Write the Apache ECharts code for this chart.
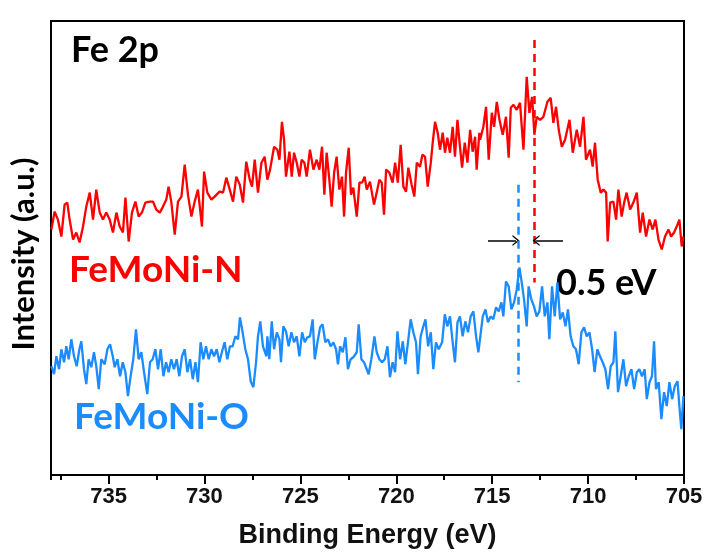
<!DOCTYPE html>
<html>
<head>
<meta charset="utf-8">
<script src="https://cdn.jsdelivr.net/npm/echarts@6/dist/echarts.min.js"></script>
<style>
  html, body { margin: 0; padding: 0; background: #fff; }
  #chart { width: 708px; height: 554px; }
</style>
</head>
<body>
<div id="chart"></div>
<script>
// FeMoNi-N (red), binding energy (eV) / intensity (a.u.)
var energyN = [737.98,737.81,737.64,737.46,737.29,737.15,737.03,736.85,736.68,736.51,736.33,736.16,735.98,735.81,735.64,735.46,735.29,735.12,734.94,734.77,734.59,734.42,734.25,734.12,733.95,733.78,733.60,733.43,733.26,733.08,732.86,732.68,732.51,732.33,732.16,731.99,731.87,731.73,731.55,731.38,731.20,731.03,730.86,730.68,730.51,730.34,730.13,730.02,729.85,729.64,729.47,729.21,729.03,728.86,728.68,728.51,728.34,728.16,727.99,727.82,727.64,727.52,727.38,727.21,727.03,726.86,726.72,
  726.58,726.37,726.20,726.09,725.96,725.85,725.75,725.57,725.45,725.33,725.19,725.05,724.93,724.79,724.67,724.50,724.32,724.15,724.01,723.87,723.75,723.63,723.49,723.37,723.24,723.11,722.97,722.83,722.72,722.62,722.48,722.36,722.24,722.06,721.92,721.78,721.65,721.54,721.37,721.16,721.02,720.88,720.76,720.64,720.53,720.36,720.19,720.06,719.92,719.77,719.63,719.49,719.37,719.20,719.06,718.93,718.76,718.64,718.50,718.36,718.20,718.10,717.98,717.84,717.72,717.58,717.46,717.34,717.20,717.06,716.94,716.81,716.68,716.57,716.43,716.29,716.15,716.02,715.89,715.81,715.67,
  715.63,715.46,715.32,715.18,715.02,714.90,714.76,714.62,714.45,714.28,714.14,714.03,713.89,713.72,713.55,713.37,713.20,713.06,712.92,712.80,712.68,712.50,712.33,712.12,711.95,711.81,711.67,711.53,711.37,711.20,710.97,710.80,710.59,710.42,710.24,710.11,709.90,709.76,709.64,709.50,709.34,709.20,709.06,708.98,708.85,708.68,708.54,708.42,708.25,708.12,707.99,707.81,707.64,707.46,707.29,707.15,706.98,706.80,706.63,706.49,706.33,706.16,705.99,705.81,705.67,705.52,705.38,705.24,705.12,705.03];
var intensityN = [246,264,256,239,271,273,256,236,243,233,249,269,283,256,286,263,256,263,256,243,263,249,243,278,234,263,274,259,263,273,274,274,266,263,269,276,289,274,241,274,279,311,281,259,274,286,249,304,283,276,279,284,283,298,286,274,299,291,273,314,296,289,316,283,313,319,296,
  306,329,326,316,354,336,299,324,299,323,313,299,316,313,299,326,306,316,306,329,281,323,296,269,303,319,286,299,259,303,328,281,288,259,293,293,299,286,294,271,283,296,293,261,306,303,293,313,293,331,289,284,308,291,279,313,309,321,319,289,313,333,354,343,326,343,323,338,323,349,319,356,329,308,333,313,346,324,339,306,343,
  336,349,369,316,363,349,374,356,341,359,318,368,371,366,373,326,399,363,379,341,359,356,359,374,378,353,369,346,329,336,356,323,346,329,359,316,326,309,333,296,283,286,283,234,273,274,256,286,259,273,283,266,273,283,243,263,239,256,246,256,236,226,239,246,239,243,249,256,229,239];

// FeMoNi-O (blue)
var energyO = [737.98,737.84,737.72,737.58,737.46,737.32,737.20,737.08,736.94,736.80,736.66,736.52,736.42,736.28,736.16,736.04,735.90,735.76,735.64,735.51,735.38,735.20,735.06,734.92,734.78,734.68,734.54,734.40,734.26,734.12,733.99,733.85,733.71,733.57,733.43,733.29,733.15,732.98,732.84,732.70,732.56,732.42,732.28,732.14,732.00,731.87,731.73,731.59,731.45,731.31,731.17,731.03,730.89,730.75,730.61,730.47,730.34,730.20,730.06,729.92,729.78,729.64,729.50,729.36,729.22,729.08,728.95,728.81,728.67,728.53,728.39,728.25,728.15,728.01,727.87,727.73,727.59,727.45,727.31,727.21,727.09,726.95,726.77,
  726.72,726.62,726.49,726.37,726.23,726.09,726.01,725.89,725.75,725.61,725.47,725.33,725.19,725.05,724.91,724.77,724.64,724.50,724.36,724.25,724.11,723.97,723.84,723.70,723.56,723.42,723.28,723.14,723.04,722.93,722.79,722.65,722.52,722.38,722.24,722.06,721.96,721.82,721.68,721.54,721.44,721.30,721.14,721.02,720.88,720.74,720.60,720.46,720.33,720.19,720.06,719.94,719.80,719.66,719.53,719.39,719.25,719.11,718.97,718.87,718.73,718.59,718.48,718.34,718.20,718.07,717.93,717.79,717.61,717.47,717.34,717.20,717.06,716.94,716.81,716.68,716.54,716.40,716.26,716.12,715.98,715.84,715.72,
  715.63,715.49,715.35,715.22,715.08,714.94,714.80,714.66,714.52,714.42,714.28,714.14,714.00,713.86,713.72,713.58,713.46,713.34,713.20,713.10,712.96,712.82,712.68,712.54,712.40,712.26,712.12,712.02,711.88,711.74,711.60,711.46,711.32,711.18,711.05,710.91,710.77,710.63,710.49,710.35,710.21,710.07,709.93,709.79,709.66,709.52,709.38,709.24,709.10,708.96,708.82,708.68,708.58,708.44,708.30,708.16,708.02,707.88,707.74,707.60,707.46,707.33,707.19,707.05,706.94,706.80,706.67,706.56,706.46,706.32,706.18,706.04,705.90,705.76,705.62,705.48,705.34,705.24,705.14,705.03];
var intensityO = [109,101,119,106,126,113,129,116,136,119,109,126,134,106,91,116,108,123,109,86,116,111,126,131,119,108,116,99,113,103,79,99,116,146,116,123,103,81,113,116,126,106,126,99,113,103,116,106,116,99,119,126,103,116,96,113,93,133,116,129,116,126,119,126,113,124,133,116,129,129,139,136,158,143,126,116,94,88,113,139,154,129,119,
  139,116,154,126,143,136,113,149,144,129,143,133,139,119,143,133,138,139,156,116,133,148,151,133,136,129,133,126,111,129,123,138,106,116,118,123,151,116,113,106,101,116,139,123,116,113,116,129,98,113,103,144,116,134,111,133,156,143,133,101,139,149,156,129,143,106,133,126,133,161,149,159,133,113,153,159,139,154,143,159,164,139,123,
  123,159,166,153,159,156,168,164,173,159,194,189,166,173,186,208,193,176,149,189,176,169,159,164,189,159,173,136,189,159,193,156,163,149,166,139,129,126,111,143,148,139,143,126,103,126,119,113,106,86,109,113,144,83,99,116,89,99,106,86,103,106,99,106,76,93,99,134,86,93,56,83,69,93,76,89,94,69,46,79];

// peak guide lines (eV)
var peakN = 712.8;
var peakO = 713.65;
var xTicks = [705, 710, 715, 720, 725, 730, 735];

function pairs(xs, ys) {
  return xs.map(function (x, i) { return [x, ys[i]]; });
}

var chart = echarts.init(document.getElementById('chart'));
var chevron = 'path://M0,10 L5,0 L10,10 L8.6,10 L5,3 L1.4,10 Z';
var calibri = 'Lato, "Open Sans", sans-serif';

chart.setOption({
  animation: false,
  grid: {
    left: 51, right: 24, top: 21, bottom: 78,
    show: true, borderColor: '#000', borderWidth: 2
  },
  xAxis: [{
    type: 'value',
    inverse: true,
    min: 705,
    max: 738,
    interval: 5,
    name: 'Binding Energy (eV)',
    nameLocation: 'middle',
    nameGap: 47,
    nameTextStyle: { fontFamily: '"Liberation Sans", Arial', fontWeight: 'bold', fontSize: 27, color: '#111' },
    axisLine: { lineStyle: { color: '#000', width: 2 } },
    axisTick: { length: 9, lineStyle: { color: '#000', width: 2 } },
    axisLabel: {
      showMaxLabel: false,
      margin: 11,
      fontFamily: '"Liberation Sans", Arial', fontWeight: 'bold', fontSize: 22, color: '#111',
      formatter: function (v) { return xTicks.indexOf(v) >= 0 ? v : ''; }
    },
    splitLine: { show: false }
  }, {
    // minor ticks every 2.5 eV
    type: 'value',
    inverse: true,
    position: 'bottom',
    min: 705,
    max: 738,
    interval: 2.5,
    axisLine: { show: false },
    axisTick: { length: 5, lineStyle: { color: '#000', width: 2 } },
    axisLabel: { show: false },
    splitLine: { show: false }
  }],
  yAxis: {
    type: 'value',
    min: 0,
    max: 455,
    name: 'Intensity (a.u.)',
    nameLocation: 'middle',
    nameGap: 12,
    nameRotate: 90,
    nameTextStyle: { fontFamily: calibri, fontWeight: 'bold', fontSize: 31, color: '#000', padding: [0, 12, 0, 0] },
    axisLine: { show: true, lineStyle: { color: '#000', width: 2 } },
    axisTick: { show: false },
    axisLabel: { show: false },
    splitLine: { show: false }
  },
  series: [{
    name: 'FeMoNi-N',
    type: 'line',
    showSymbol: false,
    data: pairs(energyN, intensityN),
    lineStyle: { color: '#ff0000', width: 2.3 },
    markLine: {
      silent: true,
      label: { show: false },
      data: [
        [{ coord: [peakN, 436], symbol: 'none' }, { coord: [peakN, 193], symbol: 'none' }],
        [{ coord: [715.22, 235], symbol: 'none', lineStyle: { type: 'solid', color: '#000', width: 1.5 } },
         { coord: [713.76, 235], symbol: chevron, symbolSize: [11, 7] }],
        [{ coord: [711.31, 235], symbol: 'none', lineStyle: { type: 'solid', color: '#000', width: 1.5 } },
         { coord: [712.71, 235], symbol: chevron, symbolSize: [11, 7] }]
      ],
      lineStyle: { color: '#ff0000', type: [8, 6], width: 2.5 },
      itemStyle: { color: '#000' }
    }
  }, {
    name: 'FeMoNi-O',
    type: 'line',
    showSymbol: false,
    data: pairs(energyO, intensityO),
    lineStyle: { color: '#1a8cff', width: 2.3 },
    markLine: {
      silent: true,
      label: { show: false },
      symbol: 'none',
      data: [[{ coord: [peakO, 291] }, { coord: [peakO, 93] }]],
      lineStyle: { color: '#1a8cff', type: [8, 6], width: 2.5 }
    }
  }],
  graphic: [
    { type: 'text', left: 71, top: 32, style: { text: 'Fe 2p', fill: '#000', font: 'bold 36px ' + calibri } },
    { type: 'text', left: 69, top: 252, style: { text: 'FeMoNi-N', fill: '#ff0000', font: 'bold 37px ' + calibri } },
    { type: 'text', left: 74, top: 399, style: { text: 'FeMoNi-O', fill: '#1a8cff', font: 'bold 37px ' + calibri } },
    { type: 'text', left: 556, top: 265, style: { text: '0.5 eV', fill: '#000', font: 'bold 36px ' + calibri } }
  ]
});
</script>
</body>
</html>
